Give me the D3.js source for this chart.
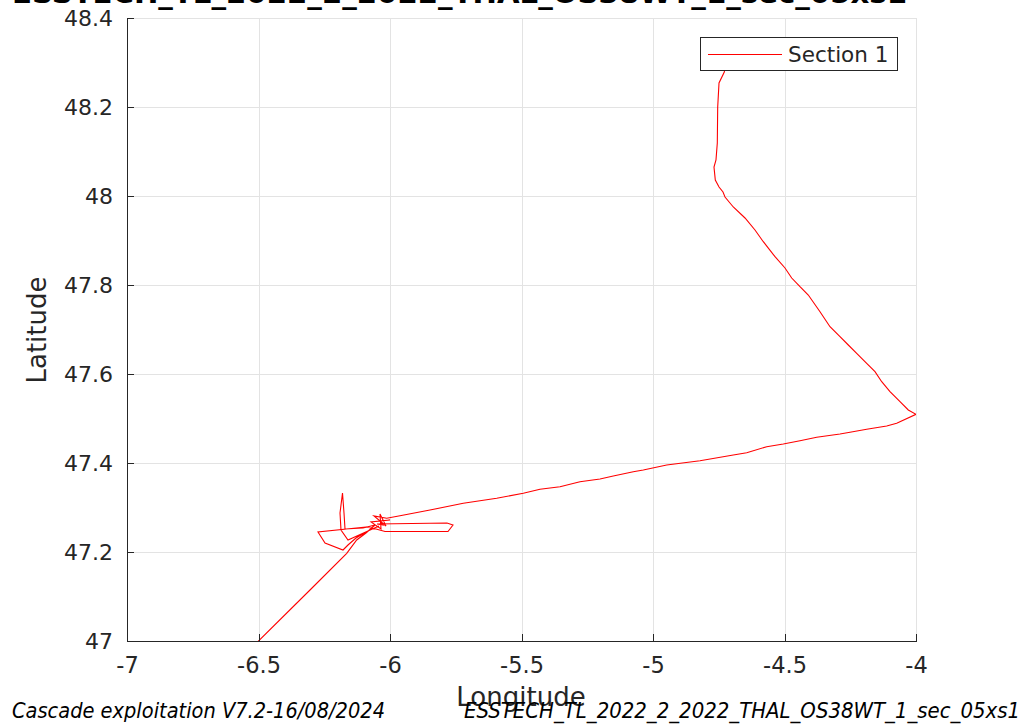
<!DOCTYPE html>
<html>
<head>
<meta charset="utf-8">
<script src="https://cdn.jsdelivr.net/npm/d3@7"></script>
<style>
  body { margin: 0; background: #ffffff; }
  svg { display: block; }
  text { font-family: "DejaVu Sans", sans-serif; }
</style>
</head>
<body>
<svg id="chart" width="1030" height="725"></svg>
<script>
// Ship track, section 1 (longitude / latitude in decimal degrees)
const trackLon = [
  -4.7224, -4.7289, -4.7490, -4.7540, -4.7555, -4.7605, -4.7681, -4.7631, -4.7490, -4.7338,
  -4.7262, -4.6947, -4.6502, -4.6122, -4.5806, -4.5361, -4.4981, -4.4726, -4.4411, -4.4095,
  -4.3650, -4.3270, -4.2890, -4.2574, -4.2255, -4.1875, -4.1559, -4.1304, -4.0989, -4.0608,
  -4.0293, -4.0000,
  -4.0734, -4.1114, -4.1875, -4.2510, -4.2890, -4.3776, -4.4411, -4.5046, -4.5677, -4.6437,
  -4.6947, -4.8213, -4.9479, -5.0369, -5.0749, -5.1510, -5.2015, -5.2776, -5.3536, -5.4297,
  -5.4932, -5.5943, -5.7213, -5.8479, -5.9620, -6.0125,
  -6.0608, -6.0152, -6.0380, -6.0342, -6.0722, -6.0000, -6.0380, -6.0266, -6.0494,
  -5.7833, -5.7605, -5.7795, -6.0190, -6.0532,
  -6.0913, -6.2738, -6.2471, -6.1787, -6.1597, -6.1293, -6.0837, -6.0418,
  -6.1597, -6.1863, -6.1901, -6.1806, -6.1749, -6.1711, -6.1027, -6.0570,
  -6.0913, -6.1266, -6.1646, -6.3042, -6.5019
];
const trackLat = [
  48.3011, 48.2787, 48.2539, 48.2000, 48.1191, 48.0809, 48.0652, 48.0360, 48.0202, 48.0090,
  47.9978, 47.9753, 47.9506, 47.9236, 47.8973, 47.8636, 47.8382, 47.8157, 47.7962, 47.7775,
  47.7400, 47.7063, 47.6838, 47.6652, 47.6465, 47.6240, 47.6052, 47.5827, 47.5602, 47.5378,
  47.5191, 47.5094,
  47.4892, 47.4831, 47.4757, 47.4690, 47.4652, 47.4578, 47.4501, 47.4427, 47.4366, 47.4231,
  47.4180, 47.4052, 47.3955, 47.3843, 47.3804, 47.3708, 47.3640, 47.3580, 47.3467, 47.3409,
  47.3319, 47.3207, 47.3094, 47.2944, 47.2816, 47.2757,
  47.2810, 47.2584, 47.2854, 47.2517, 47.2674, 47.2719, 47.2697, 47.2607, 47.2629,
  47.2652, 47.2607, 47.2461, 47.2461, 47.2517,
  47.2562, 47.2449, 47.2202, 47.2045, 47.2157, 47.2315, 47.2472, 47.2584,
  47.2270, 47.2494, 47.2876, 47.3326, 47.2876, 47.2517, 47.2539, 47.2607,
  47.2427, 47.2270, 47.1971, 47.1146, 46.9989
];

const xTicks = [-7, -6.5, -6, -5.5, -5, -4.5, -4];
const yTicks = [47, 47.2, 47.4, 47.6, 47.8, 48, 48.2, 48.4];
const xTickLabels = ["-7", "-6.5", "-6", "-5.5", "-5", "-4.5", "-4"];
const yTickLabels = ["47", "47.2", "47.4", "47.6", "47.8", "48", "48.2", "48.4"];

const seriesName = "Section 1";
const titleText = "ESSTECH_TL_2022_2_2022_THAL_OS38WT_1_sec_05xs1";
const footerLeft = "Cascade exploitation V7.2-16/08/2024";
const footerRight = "ESSTECH_TL_2022_2_2022_THAL_OS38WT_1_sec_05xs1";

const plot = { left: 127, right: 916, top: 18, bottom: 641 };
const axisColor = "#262626";
const gridColor = "#e3e3e3";
const lineColor = "#ff0000";

const svg = d3.select("#chart");

const x = d3.scaleLinear().domain([-7, -4]).range([plot.left, plot.right]);
const y = d3.scaleLinear().domain([47, 48.4]).range([plot.bottom, plot.top]);

// grid
const grid = svg.append("g").attr("shape-rendering", "crispEdges");
grid.selectAll("line.gx").data(xTicks).join("line")
  .attr("class", "gx")
  .attr("x1", d => Math.round(x(d)) + 0.5).attr("x2", d => Math.round(x(d)) + 0.5)
  .attr("y1", plot.top).attr("y2", plot.bottom)
  .attr("stroke", gridColor).attr("stroke-width", 1);
grid.selectAll("line.gy").data(yTicks).join("line")
  .attr("class", "gy")
  .attr("y1", d => Math.round(y(d)) + 0.5).attr("y2", d => Math.round(y(d)) + 0.5)
  .attr("x1", plot.left).attr("x2", plot.right)
  .attr("stroke", gridColor).attr("stroke-width", 1);

// track, clipped to the axes box
svg.append("clipPath").attr("id", "plotClip")
  .append("rect")
  .attr("x", plot.left).attr("y", plot.top)
  .attr("width", plot.right - plot.left).attr("height", plot.bottom - plot.top);

const track = trackLon.map((lon, i) => [lon, trackLat[i]]);
const line = d3.line().x(d => x(d[0])).y(d => y(d[1]));
svg.append("g").attr("clip-path", "url(#plotClip)")
  .append("path")
  .datum(track)
  .attr("d", line)
  .attr("fill", "none")
  .attr("stroke", lineColor)
  .attr("stroke-width", 1.1)
  .attr("stroke-linejoin", "miter");

// axes (ticks point inward)
const xAxis = d3.axisBottom(x)
  .tickValues(xTicks)
  .tickFormat((d, i) => xTickLabels[i])
  .tickSizeInner(-7).tickSizeOuter(0).tickPadding(0);
const gx = svg.append("g")
  .attr("transform", `translate(0,${plot.bottom})`)
  .call(xAxis);
gx.select(".domain").attr("stroke", axisColor).attr("shape-rendering", "crispEdges");
gx.selectAll(".tick line").attr("stroke", axisColor).attr("shape-rendering", "crispEdges");
gx.selectAll(".tick text")
  .attr("y", 32).attr("dy", null)
  .attr("fill", axisColor)
  .style("font-family", "'DejaVu Sans', sans-serif")
  .style("font-size", "22.5px");

const yAxis = d3.axisLeft(y)
  .tickValues(yTicks)
  .tickFormat((d, i) => yTickLabels[i])
  .tickSizeInner(-7).tickSizeOuter(0).tickPadding(0);
const gy = svg.append("g")
  .attr("transform", `translate(${plot.left},0)`)
  .call(yAxis);
gy.select(".domain").attr("stroke", axisColor).attr("shape-rendering", "crispEdges");
gy.selectAll(".tick line").attr("stroke", axisColor).attr("shape-rendering", "crispEdges");
gy.selectAll(".tick text")
  .attr("x", -14).attr("dy", "0.35em")
  .attr("fill", axisColor)
  .style("font-family", "'DejaVu Sans', sans-serif")
  .style("font-size", "22px");

// axis titles
svg.append("text")
  .attr("x", 521).attr("y", 706)
  .attr("text-anchor", "middle")
  .attr("fill", axisColor)
  .style("font-size", "26px")
  .text("Longitude");

svg.append("text")
  .attr("transform", "translate(46,330) rotate(-90)")
  .attr("text-anchor", "middle")
  .attr("fill", axisColor)
  .style("font-size", "26px")
  .text("Latitude");

// title (runs off the top edge)
svg.append("text")
  .attr("x", 12).attr("y", 3)
  .attr("textLength", 895).attr("lengthAdjust", "spacingAndGlyphs")
  .attr("fill", "#000")
  .style("font-size", "29px").style("font-weight", "bold")
  .text(titleText);

// legend
const legend = svg.append("g");
legend.append("rect")
  .attr("x", 700.5).attr("y", 37.5).attr("width", 197).attr("height", 33)
  .attr("fill", "#fff").attr("stroke", axisColor).attr("stroke-width", 1);
legend.append("line")
  .attr("x1", 708).attr("x2", 782).attr("y1", 54.5).attr("y2", 54.5)
  .attr("stroke", lineColor).attr("stroke-width", 1);
legend.append("text")
  .attr("x", 788).attr("y", 62)
  .attr("fill", axisColor)
  .style("font-size", "21.5px")
  .text(seriesName);

// footer notes
svg.append("text")
  .attr("x", 12).attr("y", 718)
  .attr("textLength", 373).attr("lengthAdjust", "spacingAndGlyphs")
  .attr("fill", "#000")
  .style("font-size", "21px").style("font-style", "italic")
  .text(footerLeft);
svg.append("text")
  .attr("x", 464).attr("y", 718)
  .attr("textLength", 556).attr("lengthAdjust", "spacingAndGlyphs")
  .attr("fill", "#000")
  .style("font-size", "21px").style("font-style", "italic")
  .text(footerRight);
</script>
</body>
</html>
